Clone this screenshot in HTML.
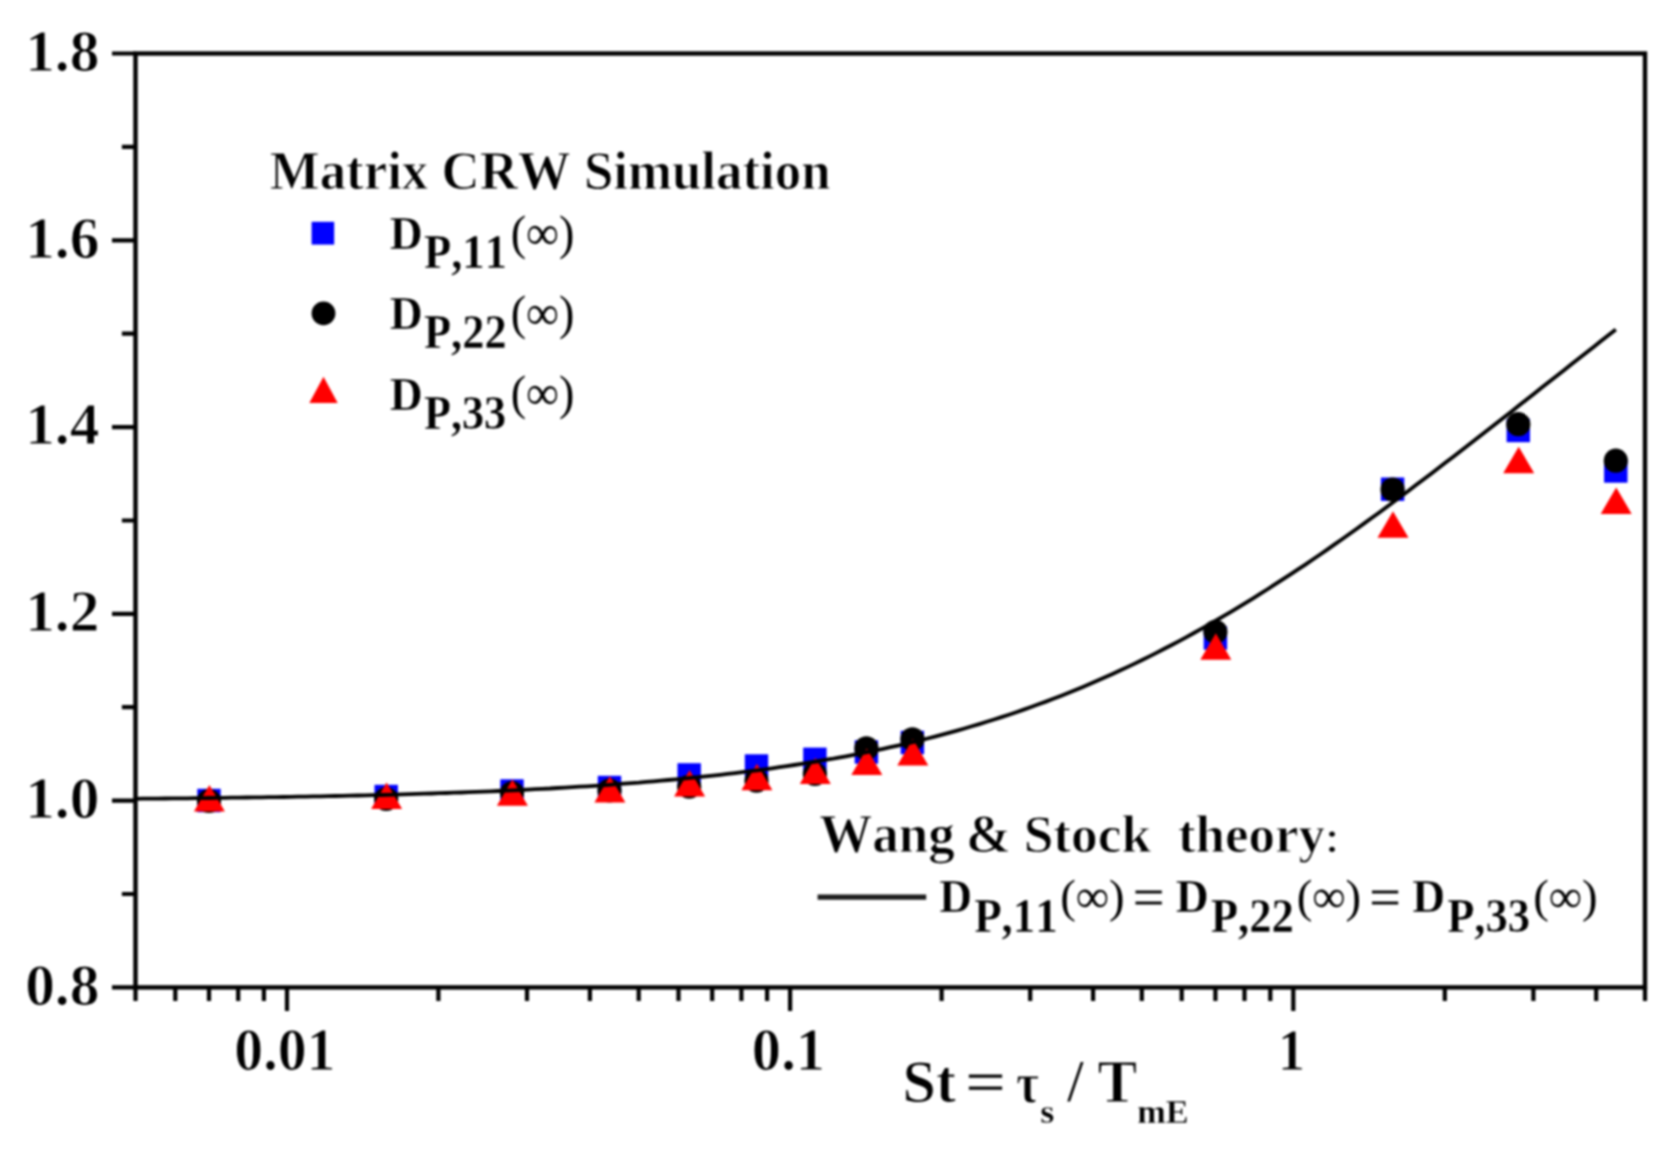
<!DOCTYPE html>
<html lang="en"><head><meta charset="utf-8"><title>Matrix CRW Simulation</title>
<style>html,body{margin:0;padding:0;background:#fff}svg{display:block;filter:blur(0.8px)}text{font-family:"Liberation Serif","DejaVu Serif",serif;font-weight:bold;fill:#000;font-kerning:none;stroke:#fff;stroke-width:1px;paint-order:fill stroke}.r{font-weight:normal;stroke:none}</style></head><body>
<svg width="1669" height="1154" viewBox="0 0 1669 1154">
<rect width="1669" height="1154" fill="#fff"/>
<g stroke="#000" fill="none" stroke-linecap="butt">
<rect x="135.5" y="53.5" width="1509.5" height="933.9" stroke-width="4.4"/>
<path d="M112.0 987.4H135.5M121.9 894.0H135.5M112.0 800.6H135.5M121.9 707.2H135.5M112.0 613.8H135.5M121.9 520.5H135.5M112.0 427.1H135.5M121.9 333.7H135.5M112.0 240.3H135.5M121.9 146.9H135.5M112.0 53.5H135.5M135.5 987.4V1001.0M175.3 987.4V1001.0M209.0 987.4V1001.0M238.2 987.4V1001.0M263.9 987.4V1001.0M287.0 987.4V1010.9M438.4 987.4V1001.0M527.0 987.4V1001.0M589.9 987.4V1001.0M638.7 987.4V1001.0M678.5 987.4V1001.0M712.2 987.4V1001.0M741.4 987.4V1001.0M767.1 987.4V1001.0M790.1 987.4V1010.9M941.6 987.4V1001.0M1030.2 987.4V1001.0M1093.1 987.4V1001.0M1141.8 987.4V1001.0M1181.7 987.4V1001.0M1215.4 987.4V1001.0M1244.5 987.4V1001.0M1270.3 987.4V1001.0M1293.3 987.4V1010.9M1444.8 987.4V1001.0M1533.4 987.4V1001.0M1596.2 987.4V1001.0M1645.0 987.4V1001.0" stroke-width="4.2"/>
</g>
<g fill="#0000ff">
<rect x="197.3" y="788.8" width="23.4" height="23.4"/>
<rect x="374.5" y="784.8" width="23.4" height="23.4"/>
<rect x="500.3" y="779.3" width="23.4" height="23.4"/>
<rect x="597.8" y="775.8" width="23.4" height="23.4"/>
<rect x="677.5" y="763.2" width="23.4" height="23.4"/>
<rect x="744.8" y="754.3" width="23.4" height="23.4"/>
<rect x="803.2" y="747.6" width="23.4" height="23.4"/>
<rect x="854.7" y="740.3" width="23.4" height="23.4"/>
<rect x="900.7" y="730.8" width="23.4" height="23.4"/>
<rect x="1203.7" y="626.3" width="23.4" height="23.4"/>
<rect x="1380.9" y="477.5" width="23.4" height="23.4"/>
<rect x="1506.6" y="418.8" width="23.4" height="23.4"/>
<rect x="1604.1" y="459.3" width="23.4" height="23.4"/>
</g><g fill="#000">
<circle cx="209.0" cy="801.0" r="12.1"/>
<circle cx="386.2" cy="799.0" r="12.1"/>
<circle cx="512.0" cy="793.0" r="12.1"/>
<circle cx="609.5" cy="790.5" r="12.1"/>
<circle cx="689.2" cy="786.7" r="12.1"/>
<circle cx="756.5" cy="780.7" r="12.1"/>
<circle cx="814.9" cy="774.0" r="12.1"/>
<circle cx="866.4" cy="748.4" r="12.1"/>
<circle cx="912.4" cy="739.3" r="12.1"/>
<circle cx="1215.4" cy="631.8" r="12.1"/>
<circle cx="1392.6" cy="489.5" r="12.1"/>
<circle cx="1518.3" cy="424.2" r="12.1"/>
<circle cx="1615.8" cy="460.7" r="12.1"/>
</g><g fill="#ff0000">
<path d="M209.4 785.1L224.9 811.5H193.9Z"/>
<path d="M386.6 782.5L402.1 808.9H371.1Z"/>
<path d="M512.4 779.4L527.9 805.8H496.9Z"/>
<path d="M609.9 776.2L625.4 802.6H594.4Z"/>
<path d="M689.6 770.1L705.1 796.5H674.1Z"/>
<path d="M756.9 763.8L772.4 790.2H741.4Z"/>
<path d="M815.3 757.7L830.8 784.1H799.8Z"/>
<path d="M866.8 748.5L882.3 774.9H851.3Z"/>
<path d="M912.8 739.0L928.3 765.4H897.3Z"/>
<path d="M1215.8 633.3L1231.3 659.7H1200.3Z"/>
<path d="M1393.0 511.3L1408.5 537.7H1377.5Z"/>
<path d="M1518.7 446.8L1534.2 473.2H1503.2Z"/>
<path d="M1616.2 487.5L1631.7 513.9H1600.7Z"/>
</g>
<polyline points="135.5,798.8 142.9,798.7 150.3,798.6 157.7,798.6 165.1,798.5 172.5,798.4 179.9,798.3 187.3,798.3 194.7,798.2 202.1,798.1 209.5,798.0 216.9,797.9 224.3,797.8 231.7,797.7 239.1,797.6 246.5,797.5 253.9,797.4 261.3,797.3 268.7,797.2 276.1,797.1 283.5,797.0 290.9,796.8 298.3,796.7 305.7,796.6 313.1,796.4 320.5,796.3 327.9,796.2 335.3,796.0 342.7,795.8 350.1,795.7 357.5,795.5 364.9,795.3 372.4,795.2 379.8,795.0 387.2,794.8 394.6,794.6 402.0,794.4 409.4,794.2 416.8,793.9 424.2,793.7 431.6,793.5 439.0,793.2 446.4,793.0 453.8,792.7 461.2,792.5 468.6,792.2 476.0,791.9 483.4,791.6 490.8,791.3 498.2,791.0 505.6,790.6 513.0,790.3 520.4,790.0 527.8,789.6 535.2,789.2 542.6,788.8 550.0,788.5 557.4,788.0 564.8,787.6 572.2,787.2 579.6,786.7 587.0,786.3 594.4,785.8 601.8,785.3 609.2,784.8 616.6,784.2 624.0,783.7 631.4,783.1 638.8,782.6 646.2,781.9 653.6,781.3 661.0,780.7 668.4,780.0 675.8,779.3 683.2,778.6 690.6,777.9 698.0,777.2 705.4,776.4 712.8,775.6 720.2,774.8 727.6,773.9 735.0,773.1 742.4,772.2 749.8,771.2 757.2,770.3 764.6,769.3 772.0,768.3 779.4,767.2 786.8,766.1 794.2,765.0 801.6,763.9 809.0,762.7 816.4,761.5 823.8,760.2 831.3,759.0 838.7,757.6 846.1,756.3 853.5,754.9 860.9,753.4 868.3,751.9 875.7,750.4 883.1,748.8 890.5,747.2 897.9,745.6 905.3,743.9 912.7,742.1 920.1,740.3 927.5,738.5 934.9,736.6 942.3,734.6 949.7,732.6 957.1,730.6 964.5,728.5 971.9,726.3 979.3,724.1 986.7,721.8 994.1,719.5 1001.5,717.1 1008.9,714.7 1016.3,712.2 1023.7,709.6 1031.1,707.0 1038.5,704.3 1045.9,701.6 1053.3,698.8 1060.7,695.9 1068.1,693.0 1075.5,690.0 1082.9,686.9 1090.3,683.8 1097.7,680.6 1105.1,677.3 1112.5,674.0 1119.9,670.6 1127.3,667.1 1134.7,663.6 1142.1,660.0 1149.5,656.4 1156.9,652.6 1164.3,648.8 1171.7,645.0 1179.1,641.1 1186.5,637.1 1193.9,633.0 1201.3,628.9 1208.7,624.7 1216.1,620.5 1223.5,616.1 1230.9,611.8 1238.3,607.3 1245.7,602.8 1253.1,598.3 1260.5,593.7 1267.9,589.0 1275.3,584.2 1282.7,579.4 1290.1,574.6 1297.6,569.7 1305.0,564.8 1312.4,559.7 1319.8,554.7 1327.2,549.6 1334.6,544.4 1342.0,539.3 1349.4,534.0 1356.8,528.7 1364.2,523.4 1371.6,518.0 1379.0,512.7 1386.4,507.2 1393.8,501.7 1401.2,496.2 1408.6,490.7 1416.0,485.1 1423.4,479.6 1430.8,473.9 1438.2,468.3 1445.6,462.6 1453.0,456.9 1460.4,451.2 1467.8,445.5 1475.2,439.8 1482.6,434.0 1490.0,428.3 1497.4,422.5 1504.8,416.7 1512.2,410.9 1519.6,405.1 1527.0,399.3 1534.4,393.4 1541.8,387.6 1549.2,381.8 1556.6,376.0 1564.0,370.2 1571.4,364.3 1578.8,358.5 1586.2,352.7 1593.6,346.9 1601.0,341.1 1608.4,335.3 1615.8,329.5" fill="none" stroke="#000" stroke-width="3.8"/>
<text transform="translate(25.14 1004.80) scale(0.9912 1)" font-size="60.0">0.8</text>
<text transform="translate(25.14 818.02) scale(0.9912 1)" font-size="60.0">1.0</text>
<text transform="translate(25.14 631.24) scale(0.9912 1)" font-size="60.0">1.2</text>
<text transform="translate(25.14 444.46) scale(0.9912 1)" font-size="60.0">1.4</text>
<text transform="translate(25.14 257.68) scale(0.9912 1)" font-size="60.0">1.6</text>
<text transform="translate(25.14 70.90) scale(0.9912 1)" font-size="60.0">1.8</text>
<text transform="translate(234.30 1069.64) scale(0.9556 1)" font-size="60.51" style="stroke-width:1.00px">0.01</text>
<text transform="translate(751.87 1069.64) scale(0.9672 1)" font-size="60.51" style="stroke-width:1.00px">0.1</text>
<text transform="translate(1277.63 1069.70) scale(0.9101 1)" font-size="59.99" style="stroke-width:1.00px">1</text>
<text transform="translate(269.80 188.80) scale(0.9534 1)" font-size="55.44" style="stroke-width:1.00px">Matrix CRW Simulation</text>
<rect x="311.6" y="221.8" width="22.6" height="22.8" fill="#0000ff"/>
<circle cx="323.5" cy="313.3" r="11.9" fill="#000"/>
<path d="M323.5 376.8L337.7 403H309.3Z" fill="#ff0000"/>
<text transform="translate(389.70 249.11) scale(0.9628 1)" font-size="47.36" style="stroke-width:0.40px">D</text><text transform="translate(423.94 268.30) scale(0.9078 1)" font-size="49.18" style="stroke-width:0.40px">P,11</text><text class="r" transform="translate(510.67 248.97) scale(0.9514 1)" font-size="48.53">(∞)</text>
<text transform="translate(389.70 329.11) scale(0.9628 1)" font-size="47.36" style="stroke-width:0.40px">D</text><text transform="translate(423.94 348.30) scale(0.9034 1)" font-size="49.18" style="stroke-width:0.40px">P,22</text><text class="r" transform="translate(510.67 328.97) scale(0.9514 1)" font-size="48.53">(∞)</text>
<text transform="translate(389.70 409.61) scale(0.9628 1)" font-size="47.36" style="stroke-width:0.40px">D</text><text transform="translate(423.94 428.80) scale(0.8990 1)" font-size="49.18" style="stroke-width:0.40px">P,33</text><text class="r" transform="translate(510.67 409.47) scale(0.9514 1)" font-size="48.53">(∞)</text>
<text transform="translate(819.35 851.78) scale(0.9781 1)" font-size="54.19" style="stroke-width:1.00px">Wang</text>
<text transform="translate(965.98 852.26) scale(0.9863 1)" font-size="54.98" style="stroke-width:1.00px">&amp;</text>
<text transform="translate(1023.66 852.00) scale(1.0146 1)" font-size="52.61" style="stroke-width:1.00px">Stock</text>
<text transform="translate(1177.95 852.00) scale(1.0068 1)" font-size="52.61" style="stroke-width:1.00px">theory</text>
<text class="r" transform="translate(1325.30 852.36) scale(1.0929 1)" font-size="45.10">:</text>
<path d="M817.6 897.2H926.2" stroke="#1c1c1c" stroke-width="5.2" fill="none"/>
<text transform="translate(939.30 912.21) scale(0.9628 1)" font-size="47.36" style="stroke-width:0.40px">D</text><text transform="translate(974.13 932.10) scale(0.9146 1)" font-size="49.18" style="stroke-width:0.40px">P,11</text><text class="r" transform="translate(1060.14 912.22) scale(0.9982 1)" font-size="46.87">(∞)</text>
<text transform="translate(1131.96 915.72) scale(1.0335 1)" font-size="57.03" style="stroke-width:1.00px">=</text>
<text transform="translate(1175.80 912.21) scale(0.9628 1)" font-size="47.36" style="stroke-width:0.40px">D</text><text transform="translate(1210.64 932.10) scale(0.9102 1)" font-size="49.18" style="stroke-width:0.40px">P,22</text><text class="r" transform="translate(1296.64 912.22) scale(0.9982 1)" font-size="46.87">(∞)</text>
<text transform="translate(1368.46 915.72) scale(1.0335 1)" font-size="57.03" style="stroke-width:1.00px">=</text>
<text transform="translate(1412.30 912.21) scale(0.9628 1)" font-size="47.36" style="stroke-width:0.40px">D</text><text transform="translate(1447.14 932.10) scale(0.9057 1)" font-size="49.18" style="stroke-width:0.40px">P,33</text><text class="r" transform="translate(1533.14 912.22) scale(0.9982 1)" font-size="46.87">(∞)</text>
<text transform="translate(902.61 1101.50) scale(0.9762 1)" font-size="61.47" style="stroke-width:1.00px">St</text>
<text transform="translate(964.39 1102.45) scale(1.2255 1)" font-size="60.74" style="stroke-width:1.00px">=</text>
<text transform="translate(1016.02 1101.54) scale(0.8687 1)" font-size="57.60" style="stroke-width:1.00px">τ</text>
<text transform="translate(1040.25 1123.22) scale(1.0807 1)" font-size="33.47" style="stroke-width:0.30px">s</text>
<text class="r" transform="translate(1067.30 1101.12) scale(0.9886 1)" font-size="59.35">/</text>
<text transform="translate(1097.57 1101.80) scale(0.9799 1)" font-size="60.63" style="stroke-width:1.00px">T</text>
<text transform="translate(1137.23 1123.05) scale(1.0501 1)" font-size="32.68" style="stroke-width:0.30px">mE</text>
</svg></body></html>
